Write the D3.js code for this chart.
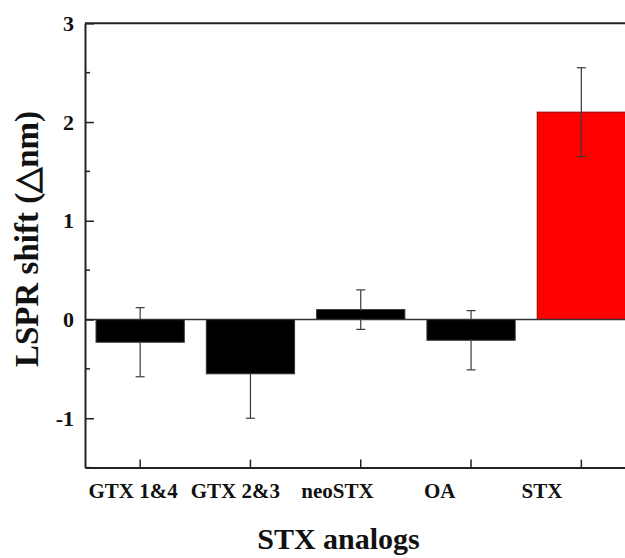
<!DOCTYPE html>
<html><head><meta charset="utf-8">
<script src="https://cdn.jsdelivr.net/npm/d3@7"></script>
<style>body{margin:0;background:#fff}svg{display:block}text{font-family:"Liberation Serif","Times New Roman",serif;font-weight:bold;fill:#111}</style>
</head><body>
<script>
const categories = ["GTX 1&4","GTX 2&3","neoSTX","OA","STX"];
const values = [-0.23,-0.55,0.10,-0.21,2.10];
const errors = [0.35,0.45,0.20,0.30,0.45];
const barColors = ["#000000","#000000","#000000","#000000","#ff0000"];
const yTicks = [-1,0,1,2,3];
const yMinor = [-1.5,-0.5,0.5,1.5,2.5];

const W=625,H=558;
const L=85, R=636.5, T=23.3, B=467.6;
const svg=d3.select("body").append("svg").attr("width",W).attr("height",H);
const x=d3.scaleBand().domain(categories).range([L,R]).paddingInner(0.2).paddingOuter(0.1);
// category labels in the original sit on a slightly narrower spacing than the ticks
const xLab=d3.scalePoint().domain(categories).range([133,542]);
const y=d3.scaleLinear().domain([-1.5,3]).range([B,T]);

// bars
svg.selectAll("rect.bar").data(categories).join("rect")
  .attr("x",d=>x(d)).attr("width",x.bandwidth())
  .attr("y",(d,i)=>y(Math.max(0,values[i])))
  .attr("height",(d,i)=>Math.abs(y(values[i])-y(0)))
  .attr("fill",(d,i)=>barColors[i])
  .attr("stroke",(d,i)=>i===4?"#8a0000":"#333").attr("stroke-width",1);

// zero line
svg.append("line").attr("x1",L).attr("x2",R).attr("y1",y(0)).attr("y2",y(0))
  .attr("stroke","#333").attr("stroke-width",1.5);

// error bars
const eb=svg.append("g").attr("stroke","#3a3a3a").attr("stroke-width",1.2);
categories.forEach((c,i)=>{
  const cx=x(c)+x.bandwidth()/2;
  const y1=y(values[i]+errors[i]), y2=y(values[i]-errors[i]);
  eb.append("line").attr("x1",cx).attr("x2",cx).attr("y1",y1).attr("y2",y2);
  eb.append("line").attr("x1",cx-4.5).attr("x2",cx+4.5).attr("y1",y1).attr("y2",y1);
  eb.append("line").attr("x1",cx-4.5).attr("x2",cx+4.5).attr("y1",y2).attr("y2",y2);
});
svg.selectAll("rect.cover").data(categories.filter((c,i)=>barColors[i]==="#000000")).join("rect")
  .attr("x",d=>x(d)+1).attr("width",x.bandwidth()-2)
  .attr("y",d=>{const i=categories.indexOf(d);return Math.min(y(values[i]),y(0))+1;})
  .attr("height",d=>{const i=categories.indexOf(d);return Math.max(0,Math.abs(y(values[i])-y(0))-2);})
  .attr("fill","#000");

// y axis
const ya=svg.append("g").attr("transform",`translate(${L},0)`)
  .call(d3.axisLeft(y).tickValues(yTicks).tickFormat(d=>String(d)).tickSizeInner(-9).tickSizeOuter(0).tickPadding(11));
ya.select(".domain").attr("stroke","#222").attr("stroke-width",2);
ya.selectAll(".tick line").attr("stroke","#222").attr("stroke-width",1.5);
ya.selectAll(".tick text").style("font-size","22px").attr("fill","#111").attr("font-family","Liberation Serif").attr("font-weight","bold");
svg.append("g").selectAll("line").data(yMinor).join("line")
  .attr("x1",L).attr("x2",L+5).attr("y1",d=>y(d)).attr("y2",d=>y(d))
  .attr("stroke","#222").attr("stroke-width",1.5);

// x axis
const xa=svg.append("g").attr("transform",`translate(0,${B})`)
  .call(d3.axisBottom(x).tickSizeInner(-8).tickSizeOuter(0).tickFormat(""));
xa.select(".domain").attr("stroke","#222").attr("stroke-width",2);
xa.selectAll(".tick line").attr("stroke","#222").attr("stroke-width",1.5);
svg.append("g").selectAll("text").data(categories).join("text")
  .attr("x",d=>xLab(d)).attr("y",498).attr("text-anchor","middle")
  .style("font-size","21px").text(d=>d);

// top frame
svg.append("line").attr("x1",L).attr("x2",R).attr("y1",T).attr("y2",T).attr("stroke","#222").attr("stroke-width",2);
svg.append("line").attr("x1",R).attr("x2",R).attr("y1",T).attr("y2",B).attr("stroke","#222").attr("stroke-width",2);

// titles
svg.append("text").attr("x",338.5).attr("y",549).attr("text-anchor","middle").style("font-size","30px").text("STX analogs");
svg.append("text").attr("transform","translate(38,239) rotate(-90)").attr("text-anchor","middle").style("font-size","33px").text("LSPR shift (△nm)");
</script>
</body></html>
